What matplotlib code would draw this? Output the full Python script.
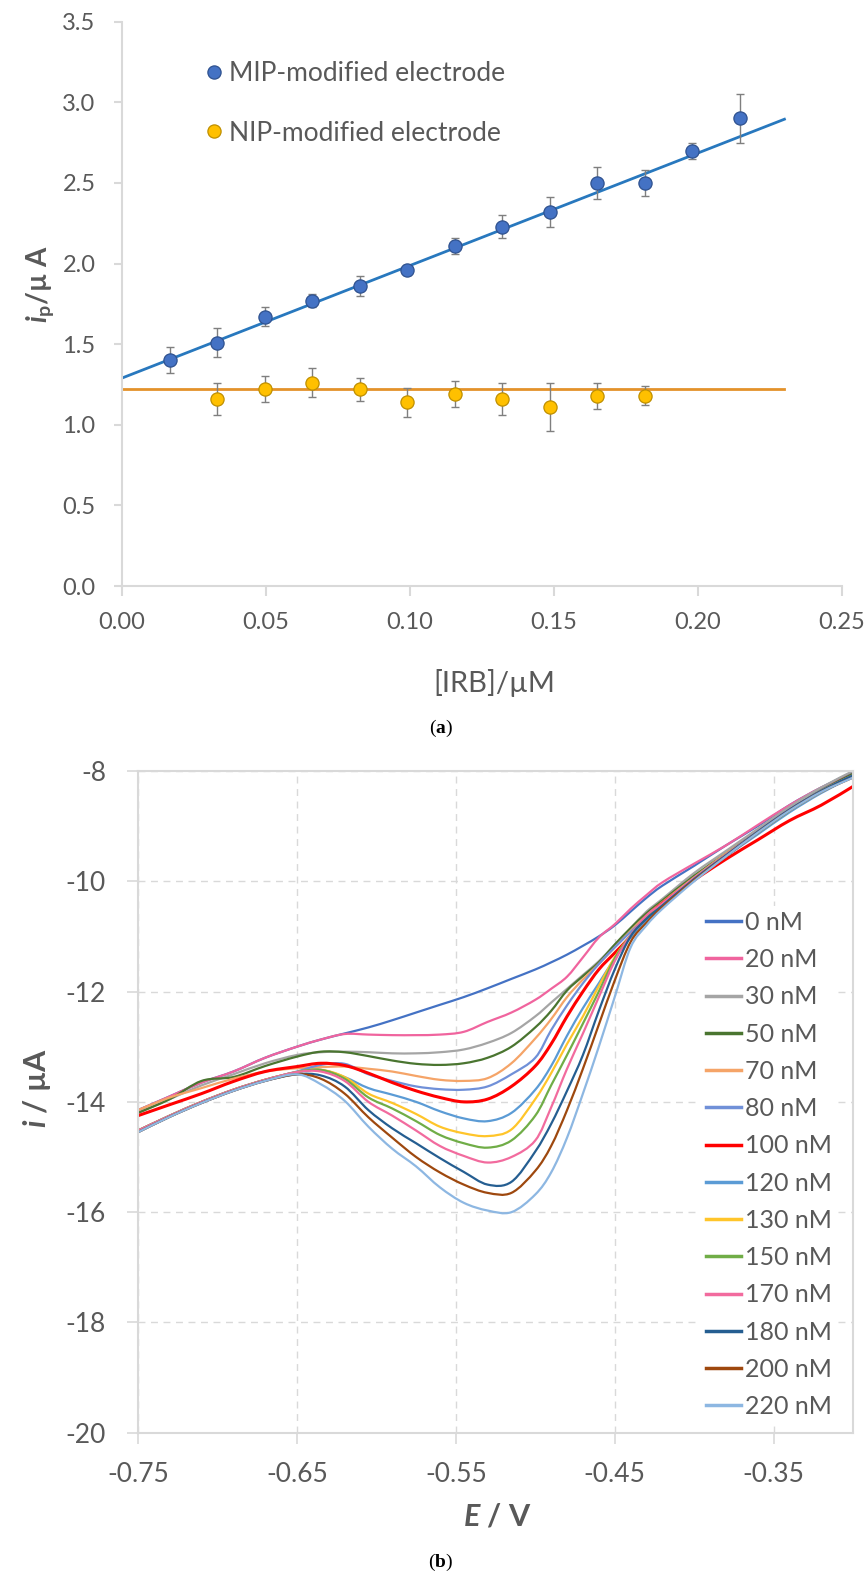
import matplotlib

matplotlib.use("Agg")
import matplotlib.pyplot as plt
from matplotlib.lines import Line2D
from matplotlib.patches import PathPatch
from matplotlib.path import Path
from matplotlib.ticker import FormatStrFormatter, MultipleLocator

plt.rcParams["font.family"] = ["Lato", "DejaVu Sans"]
plt.rcParams["axes.unicode_minus"] = False
plt.rcParams["mathtext.fontset"] = "custom"
plt.rcParams["mathtext.it"] = "Lato:italic:bold"
plt.rcParams["mathtext.rm"] = "Lato:bold"
plt.rcParams["mathtext.bf"] = "Liberation Serif:bold"

# ---- panel (a): calibration, peak current vs [IRB]
irb_mip = [0.0165, 0.033, 0.0495, 0.066, 0.0825, 0.099, 0.1155, 0.132, 0.1485, 0.165, 0.1815, 0.198, 0.2145]
ip_mip = [1.40, 1.51, 1.67, 1.77, 1.86, 1.96, 2.11, 2.23, 2.32, 2.50, 2.50, 2.70, 2.90]
err_mip = [0.08, 0.09, 0.06, 0.04, 0.06, 0.03, 0.05, 0.07, 0.09, 0.10, 0.08, 0.05, 0.15]

irb_nip = [0.033, 0.0495, 0.066, 0.0825, 0.099, 0.1155, 0.132, 0.1485, 0.165, 0.1815]
ip_nip = [1.16, 1.22, 1.26, 1.22, 1.14, 1.19, 1.16, 1.11, 1.18, 1.18]
err_nip = [0.10, 0.08, 0.09, 0.07, 0.09, 0.08, 0.10, 0.15, 0.08, 0.06]

trend_x = [0.0, 0.23]
mip_intercept = 1.29
mip_slope = 6.98
nip_level = 1.224

# ---- panel (b): voltammograms
potential = [-0.75, -0.73, -0.71, -0.69, -0.67, -0.65, -0.635, -0.62, -0.605, -0.59,
             -0.575, -0.56, -0.545, -0.53, -0.515, -0.50, -0.49, -0.48, -0.47, -0.46,
             -0.45, -0.44, -0.43, -0.42, -0.40, -0.38, -0.36, -0.34, -0.32, -0.30]

labels = ["0 nM", "20 nM", "30 nM", "50 nM", "70 nM", "80 nM", "100 nM",
          "120 nM", "130 nM", "150 nM", "170 nM", "180 nM", "200 nM", "220 nM"]
colors = ["#4472C4", "#F0649E", "#A5A5A5", "#4A7530", "#F5A468", "#7090D8", "#FF0000",
          "#5B9BD5", "#FFC52A", "#70AD47", "#F26B9E", "#255E91", "#9E480E", "#8DB7E2"]

i_0 = [-14.15, -13.90, -13.65, -13.45, -13.20, -13.00, -12.87, -12.76, -12.65, -12.52,
       -12.38, -12.24, -12.10, -11.94, -11.77, -11.60, -11.47, -11.33, -11.17, -11.00,
       -10.80, -10.55, -10.30, -10.08, -9.72, -9.35, -9.00, -8.62, -8.30, -8.02]
i_20 = [-14.15, -13.90, -13.65, -13.45, -13.20, -13.00, -12.87, -12.77, -12.78, -12.79,
        -12.79, -12.78, -12.73, -12.55, -12.38, -12.15, -11.95, -11.73, -11.38, -11.02,
        -10.78, -10.50, -10.25, -10.02, -9.68, -9.35, -8.98, -8.62, -8.30, -8.05]
i_30 = [-14.20, -13.95, -13.70, -13.50, -13.30, -13.15, -13.10, -13.09, -13.10, -13.12,
        -13.12, -13.10, -13.05, -12.93, -12.75, -12.45, -12.20, -11.95, -11.70, -11.45,
        -11.15, -10.85, -10.55, -10.32, -9.85, -9.45, -9.05, -8.65, -8.30, -8.00]
i_50 = [-14.20, -13.95, -13.62, -13.55, -13.35, -13.18, -13.09, -13.10, -13.17, -13.25,
        -13.31, -13.33, -13.30, -13.20, -13.00, -12.65, -12.35, -11.98, -11.72, -11.47,
        -11.15, -10.85, -10.58, -10.35, -9.90, -9.50, -9.10, -8.70, -8.35, -8.05]
i_70 = [-14.15, -13.92, -13.75, -13.58, -13.45, -13.39, -13.37, -13.36, -13.40, -13.45,
        -13.53, -13.60, -13.62, -13.57, -13.30, -12.85, -12.50, -12.10, -11.78, -11.50,
        -11.20, -10.90, -10.62, -10.38, -9.93, -9.50, -9.12, -8.72, -8.38, -8.10]
i_80 = [-14.52, -14.25, -14.00, -13.78, -13.60, -13.45, -13.33, -13.31, -13.50, -13.62,
        -13.72, -13.77, -13.78, -13.72, -13.50, -13.20, -12.70, -12.25, -11.85, -11.50,
        -11.20, -10.92, -10.66, -10.42, -9.95, -9.52, -9.12, -8.72, -8.38, -8.10]
i_100 = [-14.25, -14.05, -13.85, -13.63, -13.45, -13.36, -13.30, -13.34, -13.48, -13.65,
         -13.80, -13.92, -14.00, -13.95, -13.72, -13.35, -12.95, -12.45, -12.00, -11.60,
         -11.30, -11.00, -10.65, -10.40, -9.98, -9.60, -9.25, -8.90, -8.62, -8.28]
i_120 = [-14.52, -14.25, -14.00, -13.78, -13.60, -13.46, -13.42, -13.55, -13.75, -13.87,
         -14.00, -14.17, -14.30, -14.35, -14.20, -13.78, -13.35, -12.80, -12.30, -11.85,
         -11.40, -11.02, -10.70, -10.45, -9.98, -9.55, -9.15, -8.75, -8.40, -8.10]
i_130 = [-14.52, -14.25, -14.00, -13.78, -13.60, -13.46, -13.42, -13.55, -13.85, -14.02,
         -14.22, -14.45, -14.57, -14.62, -14.50, -13.95, -13.48, -12.95, -12.45, -11.90,
         -11.38, -10.98, -10.65, -10.42, -9.96, -9.53, -9.12, -8.72, -8.38, -8.10]
i_150 = [-14.52, -14.25, -14.00, -13.78, -13.60, -13.46, -13.42, -13.58, -13.92, -14.12,
         -14.35, -14.60, -14.75, -14.83, -14.70, -14.25, -13.70, -13.15, -12.58, -12.00,
         -11.40, -10.98, -10.65, -10.42, -9.95, -9.52, -9.12, -8.72, -8.36, -8.08]
i_170 = [-14.52, -14.25, -14.00, -13.78, -13.60, -13.46, -13.45, -13.62, -14.00, -14.25,
         -14.52, -14.80, -14.98, -15.10, -15.00, -14.70, -14.10, -13.40, -12.76, -12.10,
         -11.45, -10.98, -10.62, -10.40, -9.94, -9.52, -9.10, -8.70, -8.36, -8.08]
i_180 = [-14.55, -14.27, -14.02, -13.80, -13.62, -13.50, -13.52, -13.72, -14.15, -14.48,
         -14.75, -15.02, -15.27, -15.50, -15.45, -14.90, -14.40, -13.80, -13.15, -12.35,
         -11.60, -11.00, -10.68, -10.44, -9.96, -9.53, -9.10, -8.70, -8.36, -8.08]
i_200 = [-14.55, -14.27, -14.02, -13.80, -13.62, -13.50, -13.58, -13.85, -14.28, -14.65,
         -15.00, -15.28, -15.50, -15.65, -15.65, -15.25, -14.80, -14.15, -13.40, -12.60,
         -11.80, -11.10, -10.75, -10.47, -9.98, -9.55, -9.12, -8.72, -8.38, -8.12]
i_220 = [-14.55, -14.27, -14.02, -13.80, -13.62, -13.50, -13.68, -13.98, -14.45, -14.85,
         -15.17, -15.55, -15.83, -15.97, -16.00, -15.68, -15.28, -14.65, -13.85, -13.00,
         -12.10, -11.20, -10.80, -10.50, -10.00, -9.55, -9.12, -8.72, -8.38, -8.12]

currents = [i_0, i_20, i_30, i_50, i_70, i_80, i_100,
            i_120, i_130, i_150, i_170, i_180, i_200, i_220]

AXIS_GREY = "#D9D9D9"
TEXT_GREY = "#595959"


def smoothed_path(xs, ys):
    # Excel-style "smoothed line": cubic Bezier segments through the read points
    pts = list(zip(xs, ys))
    verts = [pts[0]]
    codes = [Path.MOVETO]
    n = len(pts)
    for k in range(n - 1):
        p0 = pts[k - 1] if k > 0 else pts[k]
        p1, p2 = pts[k], pts[k + 1]
        p3 = pts[k + 2] if k + 2 < n else pts[k + 1]
        c1 = (p1[0] + (p2[0] - p0[0]) / 6, p1[1] + (p2[1] - p0[1]) / 6)
        c2 = (p2[0] - (p3[0] - p1[0]) / 6, p2[1] - (p3[1] - p1[1]) / 6)
        verts += [c1, c2, p2]
        codes += [Path.CURVE4] * 3
    return Path(verts, codes)


fig = plt.figure(figsize=(8.67, 15.75), dpi=100)

# ---------------- (a)
ax = fig.add_axes([0.1407, 0.6279, 0.8305, 0.3583])
ax.plot(trend_x, [mip_intercept + mip_slope * x for x in trend_x], color="#2878BE", lw=2.0, zorder=2)
ax.plot(trend_x, [nip_level, nip_level], color="#E3922A", lw=2.0, zorder=2)
ax.errorbar(irb_mip, ip_mip, yerr=err_mip, fmt="none", ecolor="#7F7F7F", elinewidth=1.0,
            capsize=3, capthick=1.0, zorder=3)
ax.errorbar(irb_nip, ip_nip, yerr=err_nip, fmt="none", ecolor="#7F7F7F", elinewidth=1.0,
            capsize=3, capthick=1.0, zorder=3)
ax.plot(irb_mip, ip_mip, "o", ms=9.5, mfc="#4472C4", mec="#2F528F", mew=0.9,
        label="MIP-modified electrode", zorder=4)
ax.plot(irb_nip, ip_nip, "o", ms=9.5, mfc="#FFC000", mec="#BF8F00", mew=0.9,
        label="NIP-modified electrode", zorder=4)

ax.set_xlim(0, 0.25)
ax.set_ylim(0, 3.5)
ax.xaxis.set_major_locator(MultipleLocator(0.05))
ax.yaxis.set_major_locator(MultipleLocator(0.5))
ax.xaxis.set_major_formatter(FormatStrFormatter("%.2f"))
ax.yaxis.set_major_formatter(FormatStrFormatter("%.1f"))
for side in ("top", "right"):
    ax.spines[side].set_visible(False)
for side in ("left", "bottom"):
    ax.spines[side].set_color(AXIS_GREY)
    ax.spines[side].set_linewidth(1.5)
ax.tick_params(axis="x", colors=AXIS_GREY, labelcolor=TEXT_GREY, labelsize=17,
               length=7, width=1.5, pad=12)
ax.tick_params(axis="y", colors=AXIS_GREY, labelcolor=TEXT_GREY, labelsize=17,
               length=6, width=1.5, pad=13)
ax.set_xlabel("[IRB]/µM", fontsize=21, color=TEXT_GREY)
ax.xaxis.set_label_coords(0.517, -0.147)
ax.set_ylabel(r"$i_{\mathrm{p}}$/µ A", fontsize=20, fontweight="bold", color=TEXT_GREY)
ax.yaxis.set_label_coords(-0.092, 0.535)
ax.legend(loc="upper left", bbox_to_anchor=(0.075, 0.972), frameon=False, fontsize=19,
          labelcolor=TEXT_GREY, handletextpad=0.0, labelspacing=1.3, handlelength=1.1,
          numpoints=1)

fig.text(0.5087, 1 - 728 / 1575, r"($\mathbf{a}$)", family="Liberation Serif",
         fontsize=14, ha="center", va="center")

# ---------------- (b)
bx = fig.add_axes([0.1592, 0.0903, 0.8247, 0.4202])
handles = []
for curve, label, color in zip(currents, labels, colors):
    width = 2.2 if label == "100 nM" else 1.6
    bx.add_patch(PathPatch(smoothed_path(potential, curve), fill=False, edgecolor=color,
                           lw=width, capstyle="round", joinstyle="round"))
    handles.append(Line2D([], [], color=color, lw=2.5, label=label))

bx.set_xlim(-0.75, -0.30)
bx.set_ylim(-20, -8)
bx.set_xticks([-0.75, -0.65, -0.55, -0.45, -0.35])
bx.yaxis.set_major_locator(MultipleLocator(2))
bx.xaxis.set_major_formatter(FormatStrFormatter("%.2f"))
bx.yaxis.set_major_formatter(FormatStrFormatter("%d"))
bx.grid(True, color=AXIS_GREY, linestyle=(0, (5, 4)), linewidth=1.0)
bx.set_axisbelow(True)
for side in bx.spines.values():
    side.set_color(AXIS_GREY)
    side.set_linewidth(1.5)
bx.tick_params(axis="both", colors=AXIS_GREY, labelcolor=TEXT_GREY, labelsize=19,
               length=8, width=1.2)
bx.tick_params(axis="x", pad=13)
bx.tick_params(axis="y", pad=15)
bx.set_xlabel(r"$E$ / V", fontsize=22, fontweight="bold", color=TEXT_GREY)
bx.xaxis.set_label_coords(0.502, -0.106)
bx.set_ylabel(r"$i$ / µA", fontsize=22, fontweight="bold", color=TEXT_GREY)
bx.yaxis.set_label_coords(-0.119, 0.521)
leg = bx.legend(handles=handles, loc="upper left", bbox_to_anchor=(0.77, 0.815), frameon=True,
                fontsize=18, labelcolor=TEXT_GREY, handlelength=1.4, handletextpad=0.15,
                labelspacing=0.57, borderpad=0.2, fancybox=False)
leg.get_frame().set_edgecolor("none")
leg.get_frame().set_facecolor("white")
leg.get_frame().set_alpha(1.0)

fig.text(0.5087, 1 - 1562 / 1575, r"($\mathbf{b}$)", family="Liberation Serif",
         fontsize=14, ha="center", va="center")

fig.savefig("out.png", dpi=100)
plt.close(fig)
